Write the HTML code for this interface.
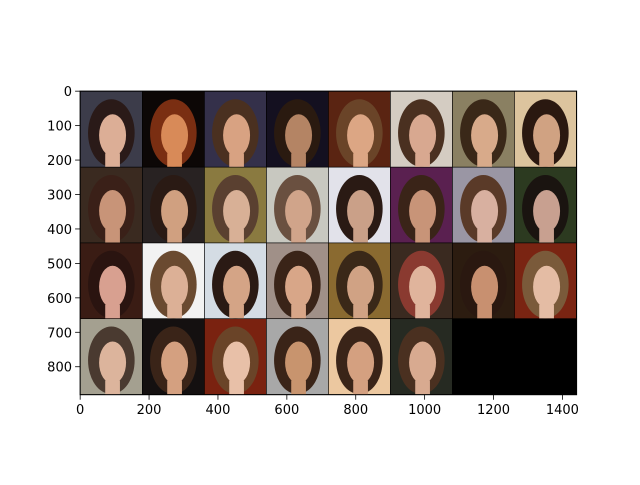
<!DOCTYPE html>
<html><head><meta charset="utf-8"><style>
html,body{margin:0;padding:0;background:#fff;}
svg text{font-family:"DejaVu Sans","Liberation Sans",sans-serif;font-size:13px;fill:#000;}
</style></head><body>
<svg id="chart" width="640" height="480" xmlns="http://www.w3.org/2000/svg">
<rect width="640" height="480" fill="#fff"/>
<g id="plot"></g>
<g id="axes"></g>
</svg>
<script>
// data
const imgW = 1442, imgH = 882, tileW = 178, tileH = 218, pad = 2, cols = 8;
const xTicks = [0,200,400,600,800,1000,1200,1400];
const yTicks = [0,100,200,300,400,500,600,700,800];
const bgColors = ["#3c3c4a","#0c0706","#34304a","#141020","#5a2412","#d4ccc2","#8a8062","#dcc49e",
"#3a2a20","#282222","#8a7a40","#c8c8c0","#e2e2ea","#5a2050","#9a96a4","#2c3a20",
"#3a1c14","#f2f2f2","#d4dce4","#a09088","#8a6a30","#3a2a20","#2c1c10","#7a2412",
"#a4a090","#141010","#7a2210","#a8a8a8","#ecc8a0","#262a22"];
const hairColors = ["#2a1a18","#7a2e12","#4a3020","#2a1a10","#6a4428","#4a3020","#3a2818","#2a1810",
"#3a2018","#2a1a14","#5a4030","#6a5040","#2a1a14","#3a2418","#5a3a28","#1a1410",
"#2a1410","#6a4a30","#2a1a14","#3a2418","#3a2818","#8a3a30","#2a1810","#7a5a3a",
"#4a3a30","#3a2418","#6a4428","#3a2418","#3a2418","#4a3020"];
const faceColors = ["#dcae96","#d88a58","#d8a282","#b48464","#dca684","#d8a890","#d8aa8a","#d0a282",
"#c89478","#d0a080","#d8b096","#d0a48a","#caa088","#c89478","#d8b0a0","#c8a090",
"#d8a090","#dcb096","#d4a486","#d8a688","#d0a284","#e0b49c","#c89070","#e4bca4",
"#dcb49c","#d4a080","#e8c0a8","#c8946e","#d4a080","#d8aa90"];

const x0 = 80, y0 = 91, s = 496.7 / imgW;
function xs(v){ return x0 + (v + 0.5) * s; }
function ys(v){ return y0 + (v + 0.5) * s; }
const NS = "http://www.w3.org/2000/svg";
function mk(tag, attrs, parent){ const e = document.createElementNS(NS, tag); for (const k in attrs) e.setAttribute(k, attrs[k]); parent.appendChild(e); return e; }

const plot = document.getElementById('plot');
const img = mk('rect', {x: xs(-0.5), y: ys(-0.5), width: imgW*s, height: imgH*s, fill: '#000'}, plot);



bgColors.forEach((bg, i) => {
  const c = i % cols, r = Math.floor(i / cols);
  const px = pad + c * (tileW + pad), py = pad + r * (tileH + pad);
  const g = mk('g', {}, plot);
  
  
  const X = xs(px - 0.5), Y = ys(py - 0.5), W = tileW * s, H = tileH * s;
  mk('rect', {x: X, y: Y, width: W, height: H, fill: bg}, g);
  mk('ellipse', {cx: X + W*0.5, cy: Y + H*0.55, rx: W*0.38, ry: H*0.45, fill: hairColors[i]}, g);
  mk('ellipse', {cx: X + W*0.52, cy: Y + H*0.58, rx: W*0.22, ry: H*0.28, fill: faceColors[i]}, g);
  mk('rect', {x: X + W*0.4, y: Y + H*0.82, width: W*0.24, height: H*0.18, fill: faceColors[i]}, g);
});

const axes = document.getElementById('axes');
const frame = mk('rect', {x: xs(-0.5), y: ys(-0.5), width: imgW*s, height: imgH*s, fill: 'none', stroke: '#000', 'stroke-width': 0.8}, axes);


const bottom = ys(imgH - 0.5), left = xs(-0.5);
xTicks.forEach(v => {
  const x = xs(v);
  mk('line', {x1: x, y1: bottom, x2: x, y2: bottom + 4.9, stroke: '#000', 'stroke-width': 0.8}, axes);
  const t = mk('text', {x: x, y: bottom + 19, 'text-anchor': 'middle'}, axes);
  t.textContent = v;
  
  
});
yTicks.forEach(v => {
  const y = ys(v);
  mk('line', {x1: left, y1: y, x2: left - 4.9, y2: y, stroke: '#000', 'stroke-width': 0.8}, axes);
  const t = mk('text', {x: left - 8, y: y + 5, 'text-anchor': 'end'}, axes);
  t.textContent = v;
  
  
});
</script>
</body></html>
